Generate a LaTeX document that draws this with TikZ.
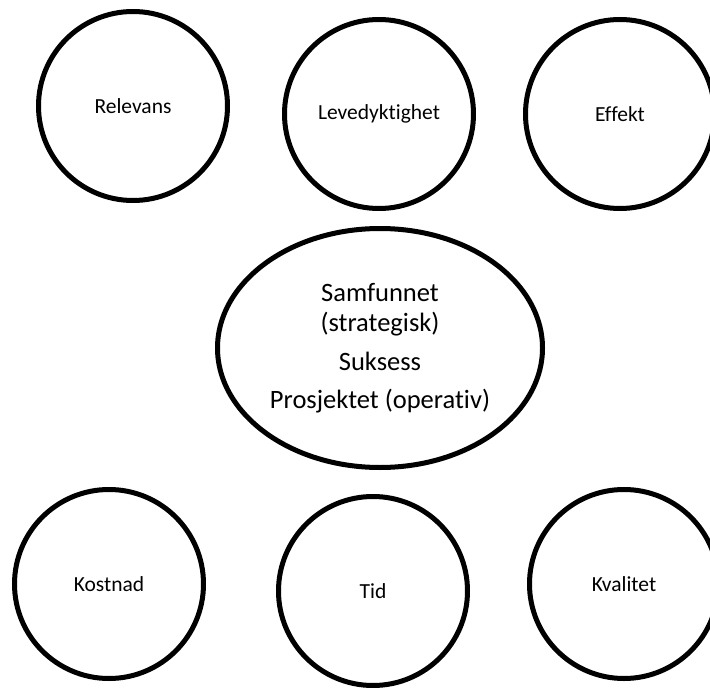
\documentclass[tikz,border=0pt]{standalone}
\usepackage{fontspec}
\setmainfont{Carlito}[RawFeature=-liga]
\usetikzlibrary{shapes.geometric}
\begin{document}
\begin{tikzpicture}[x=1pt,y=-1pt,
  ring/.style={draw=black, line width=5pt, circle, inner sep=0pt,
    minimum size=189pt, font=\fontsize{21.5}{25}\selectfont},
  hub/.style={draw=black, line width=5pt, ellipse, inner sep=0pt,
    minimum width=325pt, minimum height=239pt, align=center,
    font=\fontsize{26.5}{30}\selectfont}]
  \useasboundingbox (0,0) rectangle (710,688);
  \clip (0,0) rectangle (710,688);
  % upper row: strategic criteria
  \node[ring] (relevans) at (133,106) {Relevans};
  \node[ring] (leve) at (379,114) {Levedyktighet};
  \node[ring] (effekt) at (620,114) {Effekt};
  % centre
  \node[hub] (suksess) at (380,348)
    {Samfunnet\\(strategisk)\\[9pt]Suksess\\[8pt]Prosjektet (operativ)};
  % lower row: operational criteria
  \node[ring] (kostnad) at (109,584) {Kostnad};
  \node[ring] (tid) at (373,591) {Tid};
  \node[ring] (kvalitet) at (624,584) {Kvalitet};
\end{tikzpicture}
\end{document}
